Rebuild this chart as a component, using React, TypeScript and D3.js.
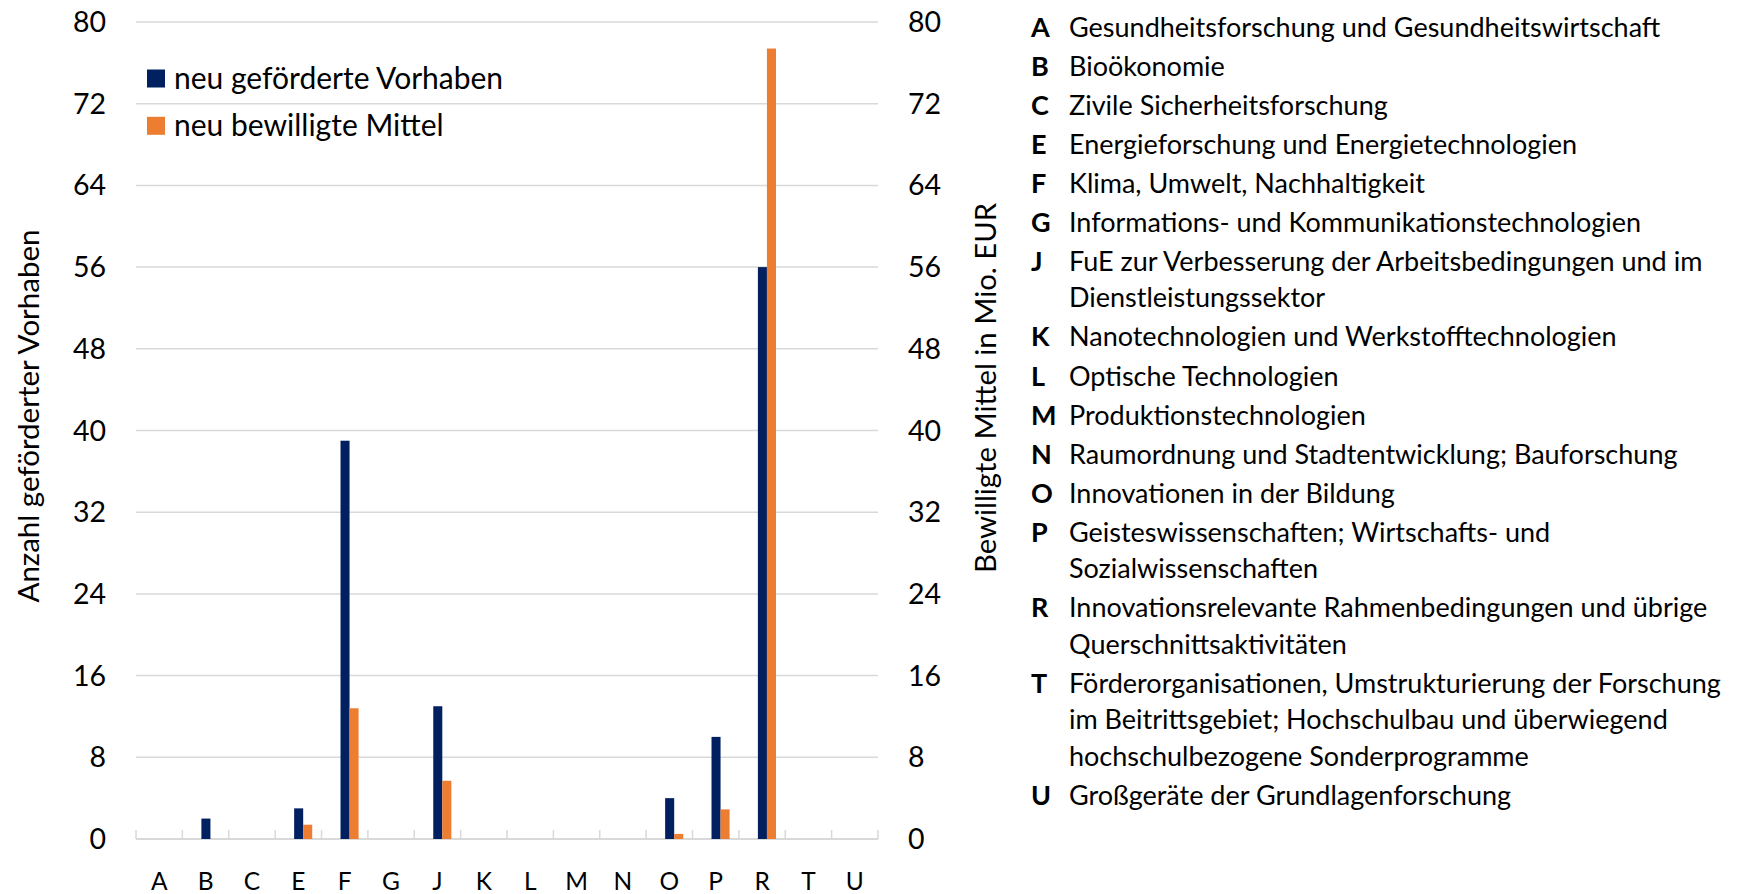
import React from 'react';
import * as d3 from 'd3';

// Fördergebiete (Kategorien) und Werte
const categories = ['A', 'B', 'C', 'E', 'F', 'G', 'J', 'K', 'L', 'M', 'N', 'O', 'P', 'R', 'T', 'U'];
const vorhaben = [0, 2, 0, 3, 39, 0, 13, 0, 0, 0, 0, 4, 10, 56, 0, 0];
const mittel = [0, 0, 0, 1.4, 12.8, 0, 5.7, 0, 0, 0, 0, 0.5, 2.9, 77.4, 0, 0];
const yTicks = [0, 8, 16, 24, 32, 40, 48, 56, 64, 72, 80];

const seriesNames = ['neu geförderte Vorhaben', 'neu bewilligte Mittel'];
const seriesKeys = ['vorhaben', 'mittel'];

const legendLetters = ['A', 'B', 'C', 'E', 'F', 'G', 'J', 'K', 'L', 'M', 'N', 'O', 'P', 'R', 'T', 'U'];
const legendTexts = [
  ['Gesundheitsforschung und Gesundheitswirtschaft'],
  ['Bioökonomie'],
  ['Zivile Sicherheitsforschung'],
  ['Energieforschung und Energietechnologien'],
  ['Klima, Umwelt, Nachhaltigkeit'],
  ['Informations- und Kommunikationstechnologien'],
  ['FuE zur Verbesserung der Arbeitsbedingungen und im', 'Dienstleistungssektor'],
  ['Nanotechnologien und Werkstofftechnologien'],
  ['Optische Technologien'],
  ['Produktionstechnologien'],
  ['Raumordnung und Stadtentwicklung; Bauforschung'],
  ['Innovationen in der Bildung'],
  ['Geisteswissenschaften; Wirtschafts- und', 'Sozialwissenschaften'],
  ['Innovationsrelevante Rahmenbedingungen und übrige', 'Querschnittsaktivitäten'],
  ['Förderorganisationen, Umstrukturierung der Forschung', 'im Beitrittsgebiet; Hochschulbau und überwiegend', 'hochschulbezogene Sonderprogramme'],
  ['Großgeräte der Grundlagenforschung'],
];

const COLORS: Record<string, string> = { vorhaben: '#002060', mittel: '#ED7D31' };
const FONT = 'Lato, Carlito, "Open Sans", sans-serif';

const App: React.FC = () => {
  const width = 1738;
  const height = 894;
  const plot = { left: 136, right: 878, top: 22, bottom: 839 };

  const x = d3.scaleBand<string>().domain(categories).range([plot.left, plot.right]).padding(0);
  const bw = x.bandwidth();
  const inner = d3.scaleBand<string>().domain(seriesKeys).range([bw * 0.41, bw * 0.8]).padding(0);
  const yLeft = d3.scaleLinear().domain([0, 80]).range([plot.bottom, plot.top]);
  const yRight = d3.scaleLinear().domain([0, 80]).range([plot.bottom, plot.top]);

  const bars = categories.flatMap((c, i) => [
    { c, key: 'vorhaben', v: vorhaben[i], y: yLeft },
    { c, key: 'mittel', v: mittel[i], y: yRight },
  ]).filter(d => d.v > 0);

  // Zeilenpositionen der Legende rechts
  const itemStep = 39.07;
  const wrapStep = 36.5;
  let cursor = 27;
  const legendRows = legendTexts.map((lines, i) => {
    const start = cursor;
    cursor += (lines.length - 1) * wrapStep + itemStep;
    return { letter: legendLetters[i], lines, y: start };
  });

  return (
    <svg width={width} height={height} style={{ position: 'absolute', left: 0, top: 0, background: '#fff' }} fontFamily={FONT}>
      {/* Gitternetz */}
      {yTicks.filter(t => t > 0).map(t => (
        <line key={t} x1={plot.left} x2={plot.right} y1={yLeft(t)} y2={yLeft(t)} stroke="#d9d9d9" strokeWidth={1.5} />
      ))}
      {/* Achse unten mit Teilstrichen */}
      <line x1={plot.left} x2={plot.right} y1={plot.bottom} y2={plot.bottom} stroke="#d9d9d9" strokeWidth={1.8} />
      {categories.concat(['_end']).map((c, i) => {
        const xx = i < categories.length ? (x(c) as number) : plot.right;
        return <line key={c} x1={xx} x2={xx} y1={plot.bottom} y2={plot.bottom - 9} stroke="#d9d9d9" strokeWidth={1.5} />;
      })}

      {/* Balken */}
      {bars.map(d => (
        <rect
          key={d.c + d.key}
          x={(x(d.c) as number) + (inner(d.key) as number)}
          y={d.y(d.v)}
          width={inner.bandwidth()}
          height={d.y(0) - d.y(d.v)}
          fill={COLORS[d.key]}
        />
      ))}

      {/* Achsenbeschriftungen */}
      {yTicks.map(t => (
        <text key={'l' + t} x={106} y={yLeft(t) + 10} textAnchor="end" fontSize={28.5} fill="#000">{t}</text>
      ))}
      {yTicks.map(t => (
        <text key={'r' + t} x={908} y={yRight(t) + 10} textAnchor="start" fontSize={28.5} fill="#000">{t}</text>
      ))}
      {categories.map(c => (
        <text key={'c' + c} x={(x(c) as number) + bw / 2} y={889.5} textAnchor="middle" fontSize={24.5} fill="#000">{c}</text>
      ))}

      <text transform="translate(38.5,416) rotate(-90)" textAnchor="middle" fontSize={29.5} fill="#000">Anzahl geförderter Vorhaben</text>
      <text transform="translate(996,388) rotate(-90)" textAnchor="middle" fontSize={29.3} fill="#000">Bewilligte Mittel in Mio. EUR</text>

      {/* Legende der Reihen */}
      {seriesKeys.map((k, i) => (
        <g key={k} transform={`translate(147,${69.5 + i * 47.3})`}>
          <rect width={18} height={18} fill={COLORS[k]} />
          <text x={27} y={19} fontSize={30} fill="#000">{seriesNames[i]}</text>
        </g>
      ))}

      {/* Legende der Kategorien */}
      {legendRows.map(r => (
        <g key={r.letter}>
          <text x={1031} y={r.y + 9.5} fontSize={27} fontWeight="bold" fill="#000">{r.letter}</text>
          {r.lines.map((ln, j) => (
            <text key={j} x={1069} y={r.y + 9.5 + j * wrapStep} fontSize={27} fill="#000">{ln}</text>
          ))}
        </g>
      ))}
    </svg>
  );
};

export default App;
